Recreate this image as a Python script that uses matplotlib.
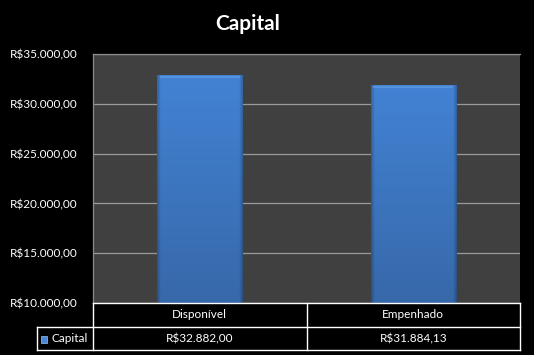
import numpy as np
import matplotlib.pyplot as plt
from matplotlib.lines import Line2D
from matplotlib.patches import Rectangle

categories = ["Disponível", "Empenhado"]
values = [32882.00, 31884.13]
value_labels = ["R$32.882,00", "R$31.884,13"]
series_name = "Capital"
yticks = [10000, 15000, 20000, 25000, 30000, 35000]
ytick_labels = ["R$10.000,00", "R$15.000,00", "R$20.000,00",
                "R$25.000,00", "R$30.000,00", "R$35.000,00"]

plt.rcParams['font.family'] = ['Lato', 'DejaVu Sans']

fig = plt.figure(figsize=(5.34, 3.55), dpi=100, facecolor='black')
W, H = 534, 355
L, R, T, B = 93, 520, 54, 303
ax = fig.add_axes([L / W, 1 - B / H, (R - L) / W, (B - T) / H])
ax.set_facecolor('#404040')

ax.set_yticks(yticks)
ax.set_yticklabels(ytick_labels, color='white', fontsize=8.5)
ax.tick_params(axis='y', length=0, pad=11)
ax.set_xticks([])
for yv in yticks:
    ax.axhline(yv, color='#9a9a9a', lw=0.9, zorder=1)
for s in ['right', 'bottom']:
    ax.spines[s].set_visible(False)
for s in ['left', 'top']:
    ax.spines[s].set_color('#8a8a8a')
    ax.spines[s].set_linewidth(0.9)

x = np.arange(len(categories))
bars = ax.bar(x, values, width=0.4, bottom=0, color='#3f7bcc',
              edgecolor='#2f5d99', lw=0.6, zorder=2)

# vertical shading, darker near the sides
top_c = np.array([0.26, 0.51, 0.83])
bot_c = np.array([0.215, 0.41, 0.665])
t = np.linspace(0, 1, 80)[:, None, None]
u = np.linspace(0, 1, 86)
side = 1 - 0.22 * (np.clip(1 - np.minimum(u, 1 - u) / 0.04, 0, 1))
img = (top_c * (1 - t) + bot_c * t) * side[None, :, None]
img = np.clip(img, 0, 1)
for b in bars:
    x0, w, h = b.get_x(), b.get_width(), b.get_height()
    im = ax.imshow(img, extent=[x0, x0 + w, 10000, h], aspect='auto',
                   zorder=3, interpolation='bilinear', origin='upper')
    im.set_clip_path(b)
    ax.add_patch(Rectangle((x0 + w * 0.03, h - 280), w * 0.94, 220,
                           color='#5a98e2', lw=0, zorder=4, alpha=0.8))
ax.set_xlim(-0.5, len(categories) - 0.5)
ax.set_ylim(10000, 35000)

fig.text(248 / W, 1 - 24 / H, series_name, color='white', fontsize=15,
         fontweight='bold', ha='center', va='center')

# data table under the plot
col_edges = [L, (L + R) / 2, R]
row_y = [B, 327, 350]
leg_left = 37

def fline(x0, y0, x1, y1):
    fig.add_artist(Line2D([x0 / W, x1 / W], [1 - y0 / H, 1 - y1 / H],
                          color='white', lw=1.0))

fline(L, row_y[0], R, row_y[0])
fline(leg_left, row_y[1], R, row_y[1])
fline(leg_left, row_y[2], R, row_y[2])
fline(leg_left, row_y[1], leg_left, row_y[2])
for cx in col_edges:
    fline(cx, row_y[0], cx, row_y[2])

for i, cat in enumerate(categories):
    cx = (col_edges[i] + col_edges[i + 1]) / 2
    fig.text(cx / W, 1 - (row_y[0] + row_y[1]) / 2 / H, cat, color='white',
             fontsize=8.5, ha='center', va='center')
    fig.text(cx / W, 1 - (row_y[1] + row_y[2]) / 2 / H, value_labels[i],
             color='white', fontsize=8.5, ha='center', va='center')

fig.add_artist(Rectangle((41 / W, 1 - 343 / H), 6 / W, 7 / H,
                         facecolor='#4a86d4', edgecolor='#9cc2f0', lw=0.5))
fig.text(52 / W, 1 - (row_y[1] + row_y[2]) / 2 / H, series_name,
         color='white', fontsize=8.5, ha='left', va='center')

fig.savefig('out.png', dpi=100, facecolor='black')
